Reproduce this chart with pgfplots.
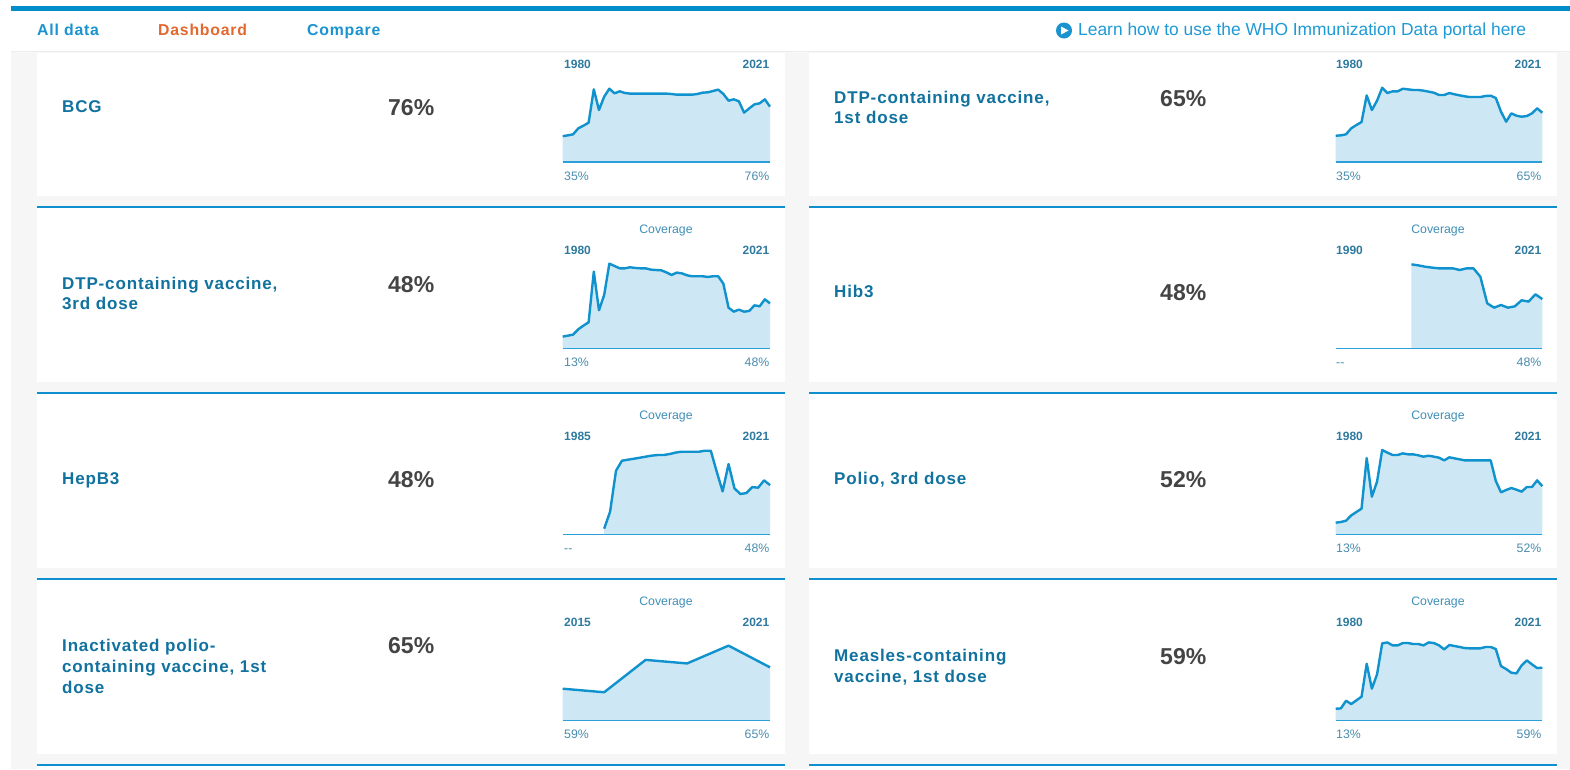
\documentclass[border=0pt]{standalone}
\usepackage{pgfplots}
\pgfplotsset{compat=1.18}
\usepackage{pgfplotstable}
\usepackage{fontspec}
\setmainfont{Liberation Sans}
\newfontfamily\navf[LetterSpace=5]{Liberation Sans}
\definecolor{pagebg}{HTML}{F6F6F6}
\definecolor{barblue}{HTML}{008DC9}
\definecolor{navblue}{HTML}{1A93CF}
\definecolor{navorange}{HTML}{E2682F}
\definecolor{learnblue}{HTML}{1E9AD6}
\definecolor{namec}{HTML}{11729F}
\definecolor{pctc}{HTML}{444444}
\definecolor{yearc}{HTML}{2F7BA0}
\definecolor{labc}{HTML}{4A8DAF}
\definecolor{covc}{HTML}{3F8FB8}
\definecolor{linec}{HTML}{0F92CE}
\definecolor{fillc}{HTML}{CDE7F4}
\definecolor{basec}{HTML}{2BA0D8}
\definecolor{rulec}{HTML}{0E8FCF}

\pgfplotstableread[row sep=\\]{
y v\\
1981 35.5\\1982 36.6\\1983 38\\1984 46.2\\1985 49.9\\1986 54\\1987 99.8\\1988 71.4\\1989 89.7\\1990 100.7\\
1991 94.3\\1992 97.1\\1993 94.8\\1994 93.9\\1995 93.9\\1996 93.9\\1997 93.9\\1998 93.9\\1999 93.9\\2000 93.9\\
2001 93.9\\2002 93.4\\2003 92.5\\2004 92.5\\2005 92.5\\2006 92.5\\2007 93.4\\2008 95.2\\2009 95.7\\2010 97.5\\
2011 99.4\\2012 93.4\\2013 84.2\\2014 86.1\\2015 83.3\\2016 67.8\\2017 73.7\\2018 79.2\\2019 80.6\\2020 86.1\\2021 76\\
}\tBCG
\pgfplotstableread[row sep=\\]{
y v\\
1981 34.6\\1982 35.1\\1983 36.5\\1984 44.4\\1985 48.7\\1986 52.7\\1987 87.8\\1988 68.5\\1989 80.8\\1990 97.9\\
1991 90.9\\1992 93.1\\1993 93.1\\1994 96.6\\1995 95.7\\1996 94.9\\1997 94.9\\1998 94\\1999 92.7\\2000 91.3\\
2001 88.3\\2002 88.3\\2003 90.9\\2004 89.2\\2005 87.8\\2006 86.5\\2007 85.6\\2008 85.6\\2009 85.6\\2010 87\\
2011 87.4\\2012 84.3\\2013 66.3\\2014 53.1\\2015 64.1\\2016 61\\2017 59.7\\2018 60.6\\2019 64.1\\2020 70.7\\2021 65\\
}\tDTPa
\pgfplotstableread[row sep=\\]{
y v\\
1981 12.5\\1982 13.5\\1983 14.6\\1984 20.3\\1985 24.2\\1986 27.8\\1987 81.9\\1988 40.6\\1989 56.9\\1990 90.4\\
1991 87.9\\1992 85.4\\1993 85.4\\1994 86.5\\1995 85.8\\1996 85.4\\1997 85.4\\1998 84\\1999 83.6\\2000 83.3\\
2001 81.1\\2002 78.3\\2003 80.8\\2004 80\\2005 77.9\\2006 76.9\\2007 76.9\\2008 76.9\\2009 76.2\\2010 76.9\\
2011 76.9\\2012 69\\2013 43.4\\2014 39.1\\2015 41.3\\2016 39.1\\2017 39.9\\2018 45.9\\2019 44.8\\2020 52.3\\2021 48\\
}\tDTPc
\pgfplotstableread[row sep=\\]{
y v\\
2002 81.8\\2003 80.8\\2004 79.5\\2005 78.6\\2006 77.9\\2007 77.9\\2008 77.9\\2009 76.3\\2010 77.9\\2011 77.9\\
2012 69.8\\2013 43.8\\2014 39.6\\2015 42.2\\2016 39.6\\2017 40.9\\2018 46.8\\2019 45.5\\2020 52.6\\2021 48\\
}\tHib
\pgfplotstableread[row sep=\\]{
y v\\
1993 5.8\\1994 22.3\\1995 61.9\\1996 71.6\\1997 72.6\\1998 73.5\\1999 74.5\\2000 75.5\\2001 76.5\\2002 77.1\\
2003 77.1\\2004 78\\2005 79.4\\2006 80.3\\2007 80.3\\2008 80.3\\2009 80.3\\2010 81.3\\2011 81.3\\2012 61\\
2013 41.9\\2014 68.4\\2015 44.8\\2016 39.4\\2017 40.3\\2018 46.1\\2019 45.5\\2020 52.6\\2021 48\\
}\tHepB
\pgfplotstableread[row sep=\\]{
y v\\
1981 12.9\\1982 13.6\\1983 15\\1984 20.7\\1985 24.3\\1986 27.9\\1987 82.1\\1988 40.7\\1989 56.8\\1990 90.7\\
1991 87.9\\1992 85.4\\1993 85.4\\1994 87.1\\1995 86.1\\1996 86.1\\1997 85\\1998 83.6\\1999 84.6\\2000 83.6\\
2001 82.5\\2002 79.6\\2003 82.9\\2004 81.8\\2005 80.7\\2006 79.6\\2007 79.6\\2008 79.6\\2009 79.6\\2010 79.6\\
2011 79.6\\2012 57.5\\2013 45.4\\2014 47.9\\2015 50\\2016 48.2\\2017 46.1\\2018 51.1\\2019 51.1\\2020 58.2\\2021 52\\
}\tPolio
\pgfplotstableread[row sep=\\]{
y v\\
2016 59\\2017 58\\2018 67.1\\2019 66.1\\2020 71.1\\2021 65\\
}\tIPV
\pgfplotstableread[row sep=\\]{
y v\\
1981 13.3\\1982 13.7\\1983 22.2\\1984 18.5\\1985 22.6\\1986 26.7\\1987 63.3\\1988 35.6\\1989 51.5\\1990 85.9\\
1991 87\\1992 83.7\\1993 83.7\\1994 86.3\\1995 86.3\\1996 85.2\\1997 85.2\\1998 83.7\\1999 87\\2000 86.3\\
2001 83.7\\2002 79.3\\2003 84.1\\2004 83\\2005 81.9\\2006 80.7\\2007 80.4\\2008 80.4\\2009 80.4\\2010 81.9\\
2011 81.9\\2012 79.6\\2013 60.7\\2014 57.4\\2015 53.3\\2016 52.6\\2017 61.5\\2018 67\\2019 62.6\\2020 58.5\\2021 58.9\\
}\tMeas

% text helpers: x, baseline y (in reference pixels)
\newcommand{\TL}[5]{\node[anchor=base west,inner sep=0pt,text=#4,font=#3] at (#1pt,-#2pt) {#5};}
\newcommand{\TR}[5]{\node[anchor=base east,inner sep=0pt,text=#4,font=#3] at (#1pt,-#2pt) {#5};}
\newcommand{\TC}[5]{\node[anchor=base,inner sep=0pt,text=#4,font=#3] at (#1pt,-#2pt) {#5};}
\newcommand{\namef}{\fontsize{17}{17}\selectfont\navf\bfseries}
\newcommand{\pctf}{\fontsize{23}{23}\selectfont\bfseries}
\newcommand{\yearf}{\fontsize{12}{12}\selectfont\bfseries}
\newcommand{\labf}{\fontsize{12.3}{12.3}\selectfont}

% \spark{left}{base}{right}{xmin}{xmax}{ymin}{ymax}{table}
\newcommand{\spark}[8]{%
\pgfmathsetmacro{\spwidth}{#3-#1}%
\begin{axis}[at={(#1pt,-#2pt)},anchor=south west,width=\spwidth pt,height=90pt,scale only axis,
  axis lines=none,xmin=#4,xmax=#5,ymin=#6,ymax=#7,clip=false]
\addplot[fill=fillc,draw=none,forget plot] table[x=y,y=v]{#8} \closedcycle;
\addplot[linec,line width=2.4pt,line join=round,forget plot] table[x=y,y=v]{#8};
\end{axis}
\fill[basec] (#1pt,-#2pt+0.7pt) rectangle (#3pt,-#2pt-0.7pt);}

\begin{document}
\begin{tikzpicture}
\fill[white] (0pt,0pt) rectangle (1570pt,-769pt);
\clip (0pt,0pt) rectangle (1570pt,-769pt);
% page background
\fill[pagebg] (11pt,-50pt) rectangle (1570pt,-768.5pt);
% cards
\foreach \t/\b in {50/195.7,208/381.7,394/567.7,580/753.7,766/769}{
  \fill[white] (37pt,-\t pt) rectangle (785pt,-\b pt);
  \fill[white] (809pt,-\t pt) rectangle (1556.5pt,-\b pt);
}
\foreach \y in {206,392,578,764}{
  \fill[rulec] (37pt,-\y pt) rectangle (785pt,-\y pt-2pt);
  \fill[rulec] (809pt,-\y pt) rectangle (1556.5pt,-\y pt-2pt);
}
% nav bar with soft shadow
\fill[black!3] (11pt,-50pt) rectangle (1570pt,-53pt);
\fill[black!7] (11pt,-50pt) rectangle (1570pt,-51.5pt);
\fill[white] (11pt,-11pt) rectangle (1570pt,-50.5pt);
\fill[barblue] (11pt,-6pt) rectangle (1570pt,-11pt);
\TL{37}{35}{\fontsize{15.8}{15.8}\selectfont\navf\bfseries}{navblue}{All data}
\TL{158}{35}{\fontsize{15.8}{15.8}\selectfont\navf\bfseries}{navorange}{Dashboard}
\TL{307}{35}{\fontsize{15.8}{15.8}\selectfont\navf\bfseries}{navblue}{Compare}
\fill[navblue] (1064pt,-30.5pt) circle (8pt);
\fill[white] (1061pt,-26.5pt) -- (1068.5pt,-30.5pt) -- (1061pt,-34.5pt) -- cycle;
\TL{1078}{35.5}{\fontsize{17.4}{17.4}\selectfont}{learnblue}{Learn how to use the WHO Immunization Data portal here}

% charts
\spark{562.7}{162}{770}{1981}{2021}{0}{123.6}{\tBCG}
\spark{1335.7}{162}{1542.3}{1981}{2021}{0}{118.6}{\tDTPa}
\spark{562.7}{348.3}{770}{1981}{2021}{0}{96.1}{\tDTPc}
\spark{1335.7}{348.3}{1542.3}{1991}{2021}{0}{87.7}{\tHib}
\spark{562.7}{534.7}{770}{1986}{2021}{0}{87.1}{\tHepB}
\spark{1335.7}{534.7}{1542.3}{1981}{2021}{0}{96.4}{\tPolio}
\spark{562.7}{720.7}{770}{2016}{2021}{50}{75.3}{\tIPV}
\spark{1335.7}{720.7}{1542.3}{1981}{2021}{0}{100}{\tMeas}

% row 1
\TL{62}{112}{\namef}{namec}{BCG}
\TL{388}{115}{\pctf}{pctc}{76\%}
\TL{564}{68}{\yearf}{yearc}{1980}\TR{769.5}{68}{\yearf}{yearc}{2021}
\TL{564}{180}{\labf}{labc}{35\%}\TR{769.5}{180}{\labf}{labc}{76\%}
\TL{834}{103}{\namef}{namec}{DTP-containing vaccine,}
\TL{834}{123}{\namef}{namec}{1st dose}
\TL{1160}{106}{\pctf}{pctc}{65\%}
\TL{1336}{68}{\yearf}{yearc}{1980}\TR{1541.5}{68}{\yearf}{yearc}{2021}
\TL{1336}{180}{\labf}{labc}{35\%}\TR{1541.5}{180}{\labf}{labc}{65\%}
% row 2
\TL{62}{289}{\namef}{namec}{DTP-containing vaccine,}
\TL{62}{309}{\namef}{namec}{3rd dose}
\TL{388}{292}{\pctf}{pctc}{48\%}
\TC{666}{233}{\labf}{covc}{Coverage}
\TL{564}{254}{\yearf}{yearc}{1980}\TR{769.5}{254}{\yearf}{yearc}{2021}
\TL{564}{366}{\labf}{labc}{13\%}\TR{769.5}{366}{\labf}{labc}{48\%}
\TL{834}{297}{\namef}{namec}{Hib3}
\TL{1160}{300}{\pctf}{pctc}{48\%}
\TC{1438}{233}{\labf}{covc}{Coverage}
\TL{1336}{254}{\yearf}{yearc}{1990}\TR{1541.5}{254}{\yearf}{yearc}{2021}
\TL{1336}{366}{\labf}{labc}{-{}-}\TR{1541.5}{366}{\labf}{labc}{48\%}
% row 3
\TL{62}{484}{\namef}{namec}{HepB3}
\TL{388}{487}{\pctf}{pctc}{48\%}
\TC{666}{419}{\labf}{covc}{Coverage}
\TL{564}{440}{\yearf}{yearc}{1985}\TR{769.5}{440}{\yearf}{yearc}{2021}
\TL{564}{552}{\labf}{labc}{-{}-}\TR{769.5}{552}{\labf}{labc}{48\%}
\TL{834}{484}{\namef}{namec}{Polio, 3rd dose}
\TL{1160}{487}{\pctf}{pctc}{52\%}
\TC{1438}{419}{\labf}{covc}{Coverage}
\TL{1336}{440}{\yearf}{yearc}{1980}\TR{1541.5}{440}{\yearf}{yearc}{2021}
\TL{1336}{552}{\labf}{labc}{13\%}\TR{1541.5}{552}{\labf}{labc}{52\%}
% row 4
\TL{62}{651}{\namef}{namec}{Inactivated polio-}
\TL{62}{672}{\namef}{namec}{containing vaccine, 1st}
\TL{62}{693}{\namef}{namec}{dose}
\TL{388}{653}{\pctf}{pctc}{65\%}
\TC{666}{605}{\labf}{covc}{Coverage}
\TL{564}{626}{\yearf}{yearc}{2015}\TR{769.5}{626}{\yearf}{yearc}{2021}
\TL{564}{738}{\labf}{labc}{59\%}\TR{769.5}{738}{\labf}{labc}{65\%}
\TL{834}{661}{\namef}{namec}{Measles-containing}
\TL{834}{682}{\namef}{namec}{vaccine, 1st dose}
\TL{1160}{664}{\pctf}{pctc}{59\%}
\TC{1438}{605}{\labf}{covc}{Coverage}
\TL{1336}{626}{\yearf}{yearc}{1980}\TR{1541.5}{626}{\yearf}{yearc}{2021}
\TL{1336}{738}{\labf}{labc}{13\%}\TR{1541.5}{738}{\labf}{labc}{59\%}
\end{tikzpicture}
\end{document}
